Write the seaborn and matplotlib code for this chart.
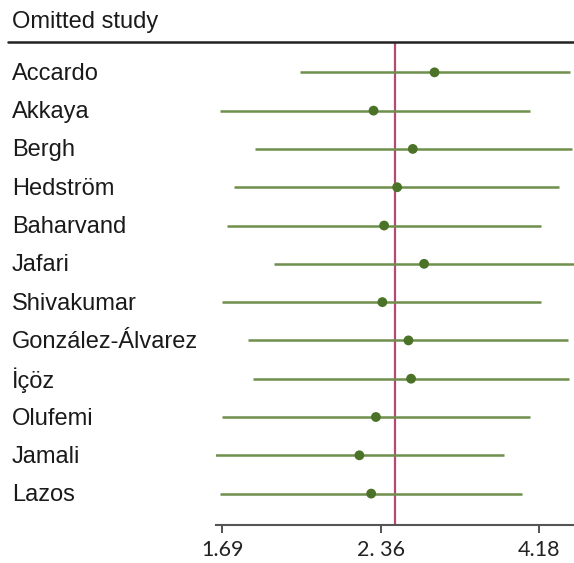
import numpy as np
import pandas as pd
import matplotlib
matplotlib.use("Agg")
import matplotlib.pyplot as plt
import matplotlib.transforms as mtransforms
import seaborn as sns

studies = ["Accardo", "Akkaya", "Bergh", "Hedström", "Baharvand", "Jafari",
           "Shivakumar", "González-Álvarez", "İçöz", "Olufemi", "Jamali", "Lazos"]
estimate = [2.98, 2.33, 2.73, 2.55, 2.40, 2.86, 2.38, 2.68, 2.71, 2.34, 2.27, 2.32]
ci_low = [2.02, 1.68, 1.83, 1.74, 1.71, 1.91, 1.69, 1.80, 1.82, 1.69, 1.66, 1.68]
ci_high = [4.54, 4.08, 4.56, 4.41, 4.21, 4.58, 4.21, 4.51, 4.53, 4.08, 3.78, 3.99]
overall = 2.53

tick_values = [1.69, 2.36, 4.18]
tick_labels = ["1.69", "2. 36", "4.18"]

df = pd.DataFrame({"study": studies, "est": estimate, "lo": ci_low, "hi": ci_high})
df["row"] = np.arange(1, len(df) + 1)

# ticks are drawn evenly spaced, so the axis is piecewise linear between them
tv = np.array(tick_values)


def forward(v):
    v = np.asarray(v, dtype=float)
    return np.where(v <= tv[1], (v - tv[0]) / (tv[1] - tv[0]),
                    1 + (v - tv[1]) / (tv[2] - tv[1]))


def inverse(u):
    u = np.asarray(u, dtype=float)
    return np.where(u <= 1, tv[0] + u * (tv[1] - tv[0]),
                    tv[1] + (u - 1) * (tv[2] - tv[1]))


sns.set_theme(style="white")
plt.rcParams["font.family"] = ["Liberation Sans", "DejaVu Sans"]

fig = plt.figure(figsize=(5.74, 5.63), dpi=100)
ax = fig.add_axes([216 / 574, 1 - 525 / 563, 1 - 216 / 574, (525 - 41.7) / 563])
ax.set_xscale("function", functions=(forward, inverse))

line_col = "#6f8f4c"
dot_col = "#4b7327"
red_col = "#b44a72"

ax.axvline(overall, color=red_col, lw=1.6, zorder=1)
ax.hlines(df["row"], df["lo"], df["hi"], color=line_col, lw=1.8, zorder=2)
sns.scatterplot(data=df, x="est", y="row", ax=ax, color=dot_col, s=50,
                edgecolor="none", zorder=3, legend=False)

ax.set_xlim(1.663, 4.584)
ax.set_ylim(12.82, 0.2)
ax.set_xticks(tick_values)
ax.set_xticklabels(tick_labels, fontsize=15.5, family=["Lato", "DejaVu Sans"])
ax.set_yticks([])
ax.set_xlabel("")
ax.set_ylabel("")
ax.xaxis.set_minor_locator(matplotlib.ticker.NullLocator())
ax.tick_params(axis="x", direction="out", length=6, width=1.3, color="#444444",
               pad=5, labelcolor="#222222", bottom=True)

for side in ["top", "left", "right"]:
    ax.spines[side].set_visible(False)
ax.spines["bottom"].set_color("#555555")
ax.spines["bottom"].set_linewidth(1.5)

# header and study names on the left
trans = mtransforms.blended_transform_factory(fig.transFigure, ax.transData)
for name, r in zip(df["study"], df["row"]):
    ax.text(12 / 574, r + 0.04, name, transform=trans, ha="left", va="center",
            fontsize=17, color="#1a1a1a")
fig.text(12 / 574, 1 - 22 / 563, "Omitted study", ha="left", va="center",
         fontsize=17, color="#1a1a1a")
ax.plot([(8 - 216) / (574 - 216), 1], [1, 1], transform=ax.transAxes,
        color="#222222", lw=1.8, clip_on=False)

fig.savefig("out.png", dpi=100)
plt.close(fig)
